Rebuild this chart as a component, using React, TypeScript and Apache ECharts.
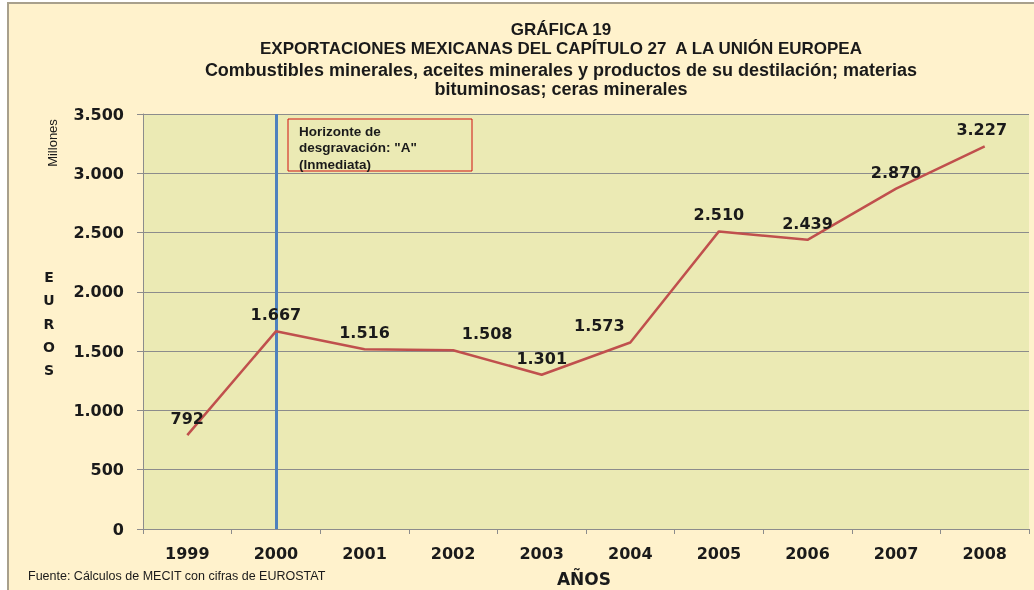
import React, { useEffect, useRef } from "react";
import * as echarts from "echarts";

const categories = ["1999", "2000", "2001", "2002", "2003", "2004", "2005", "2006", "2007", "2008"];
const values = [792, 1667, 1516, 1508, 1301, 1573, 2510, 2439, 2870, 3227];
const markerYear = "2000";
const titleLines = [
  "GRÁFICA 19",
  "EXPORTACIONES MEXICANAS DEL CAPÍTULO 27  A LA UNIÓN EUROPEA",
  "Combustibles minerales, aceites minerales y productos de su destilación; materias",
  "bituminosas; ceras minerales",
];
const annotationLines = ["Horizonte de", 'desgravación: "A"', "(Inmediata)"];
const yLetters = ["E", "U", "R", "O", "S"];

const fmt = (v: number) => String(v).replace(/\B(?=(\d{3})+(?!\d))/g, ".");

export default function App() {
  const ref = useRef<HTMLDivElement>(null);
  useEffect(() => {
    if (!ref.current) return;
    const chart = echarts.init(ref.current, undefined, { renderer: "svg" });
    const verdana = "DejaVu Sans";
    const calibri = "Liberation Sans";
    const titleY = [29, 48, 70, 89];
    const titleSize = [17, 17, 18, 18];
    const labelOffsets: Record<number, number[]> = { 3: [34, 0], 5: [-31, 0], 9: [-3, 0] };
    const graphics: any[] = [
      {
        type: "rect",
        z: -10,
        shape: { x: 8, y: 3, width: 1040, height: 600 },
        style: { fill: "#FFF2CC", stroke: "#A8A08C", lineWidth: 2 },
        silent: true,
      },
      ...titleLines.map((t, i) => ({
        type: "text",
        x: 561,
        y: titleY[i],
        style: {
          text: t,
          font: `bold ${titleSize[i]}px "${calibri}"`,
          fill: "#1a1a1a",
          align: "center",
          verticalAlign: "middle",
        },
      })),
      {
        type: "text",
        x: 52,
        y: 143,
        rotation: Math.PI / 2,
        style: {
          text: "Millones",
          font: `13px "${calibri}"`,
          fill: "#1a1a1a",
          align: "center",
          verticalAlign: "middle",
        },
      },
      ...yLetters.map((l, i) => ({
        type: "text",
        x: 49,
        y: 277 + i * 23.3,
        style: {
          text: l,
          font: `bold 14px "${verdana}"`,
          fill: "#1a1a1a",
          align: "center",
          verticalAlign: "middle",
        },
      })),
      {
        type: "text",
        x: 584,
        y: 579,
        style: {
          text: "AÑOS",
          font: `bold 17px "${verdana}"`,
          fill: "#1a1a1a",
          align: "center",
          verticalAlign: "middle",
        },
      },
      {
        type: "text",
        x: 28,
        y: 576,
        style: {
          text: "Fuente: Cálculos de MECIT con cifras de EUROSTAT",
          font: `12.5px "${calibri}"`,
          fill: "#1a1a1a",
          align: "left",
          verticalAlign: "middle",
        },
      },
      {
        type: "rect",
        shape: { x: 288, y: 119, width: 184, height: 52 },
        style: { fill: "#EBEAB4", stroke: "#D01010", lineWidth: 1 },
        z: 20,
      },
      ...annotationLines.map((t, i) => ({
        type: "text",
        x: 299,
        y: 131 + i * 16.5,
        z: 21,
        style: {
          text: t,
          font: `bold 13.5px "${calibri}"`,
          fill: "#1a1a1a",
          align: "left",
          verticalAlign: "middle",
        },
      })),
    ];

    chart.setOption({
      animation: false,
      backgroundColor: "transparent",
      grid: {
        left: 143,
        right: 5,
        top: 114,
        bottom: 61,
        show: true,
        backgroundColor: "#EBEAB4",
        borderWidth: 0,
      },
      xAxis: {
        type: "category",
        data: categories,
        boundaryGap: true,
        axisLine: { lineStyle: { color: "#8C8C8C", width: 1 } },
        axisTick: { show: true, length: 5, alignWithLabel: false, lineStyle: { color: "#8C8C8C" } },
        axisLabel: {
          margin: 16,
          color: "#1a1a1a",
          fontFamily: verdana,
          fontWeight: "bold",
          fontSize: 16,
        },
      },
      yAxis: {
        type: "value",
        min: 0,
        max: 3500,
        interval: 500,
        axisLine: { show: true, lineStyle: { color: "#8C8C8C", width: 1 } },
        axisTick: { show: true, length: 6, lineStyle: { color: "#8C8C8C" } },
        splitLine: { show: true, lineStyle: { color: "#8C8C8C", width: 1 } },
        axisLabel: {
          margin: 19,
          color: "#1a1a1a",
          fontFamily: verdana,
          fontWeight: "bold",
          fontSize: 16,
          formatter: (v: number) => fmt(v),
        },
      },
      series: [
        {
          type: "line",
          data: values.map((v, i) =>
            labelOffsets[i] ? { value: v, label: { offset: labelOffsets[i] } } : v
          ),
          symbol: "circle",
          symbolSize: 1,
          showSymbol: true,
          itemStyle: { color: "rgba(0,0,0,0)" },
          lineStyle: { color: "#C0504D", width: 2.5 },
          label: {
            show: true,
            position: "top",
            distance: 8,
            color: "#1a1a1a",
            fontFamily: verdana,
            fontWeight: "bold",
            fontSize: 16,
            formatter: (p: any) => fmt(p.value),
          },
          z: 5,
          markLine: {
            silent: true,
            symbol: "none",
            label: { show: false },
            lineStyle: { color: "#4F81BD", width: 3, type: "solid" },
            data: [{ xAxis: markerYear }],
            z: 4,
          },
        },
      ],
      graphic: graphics,
    });
    return () => chart.dispose();
  }, []);
  return (
    <div
      ref={ref}
      style={{ position: "fixed", left: 0, top: 0, width: 1034, height: 590 }}
    />
  );
}
